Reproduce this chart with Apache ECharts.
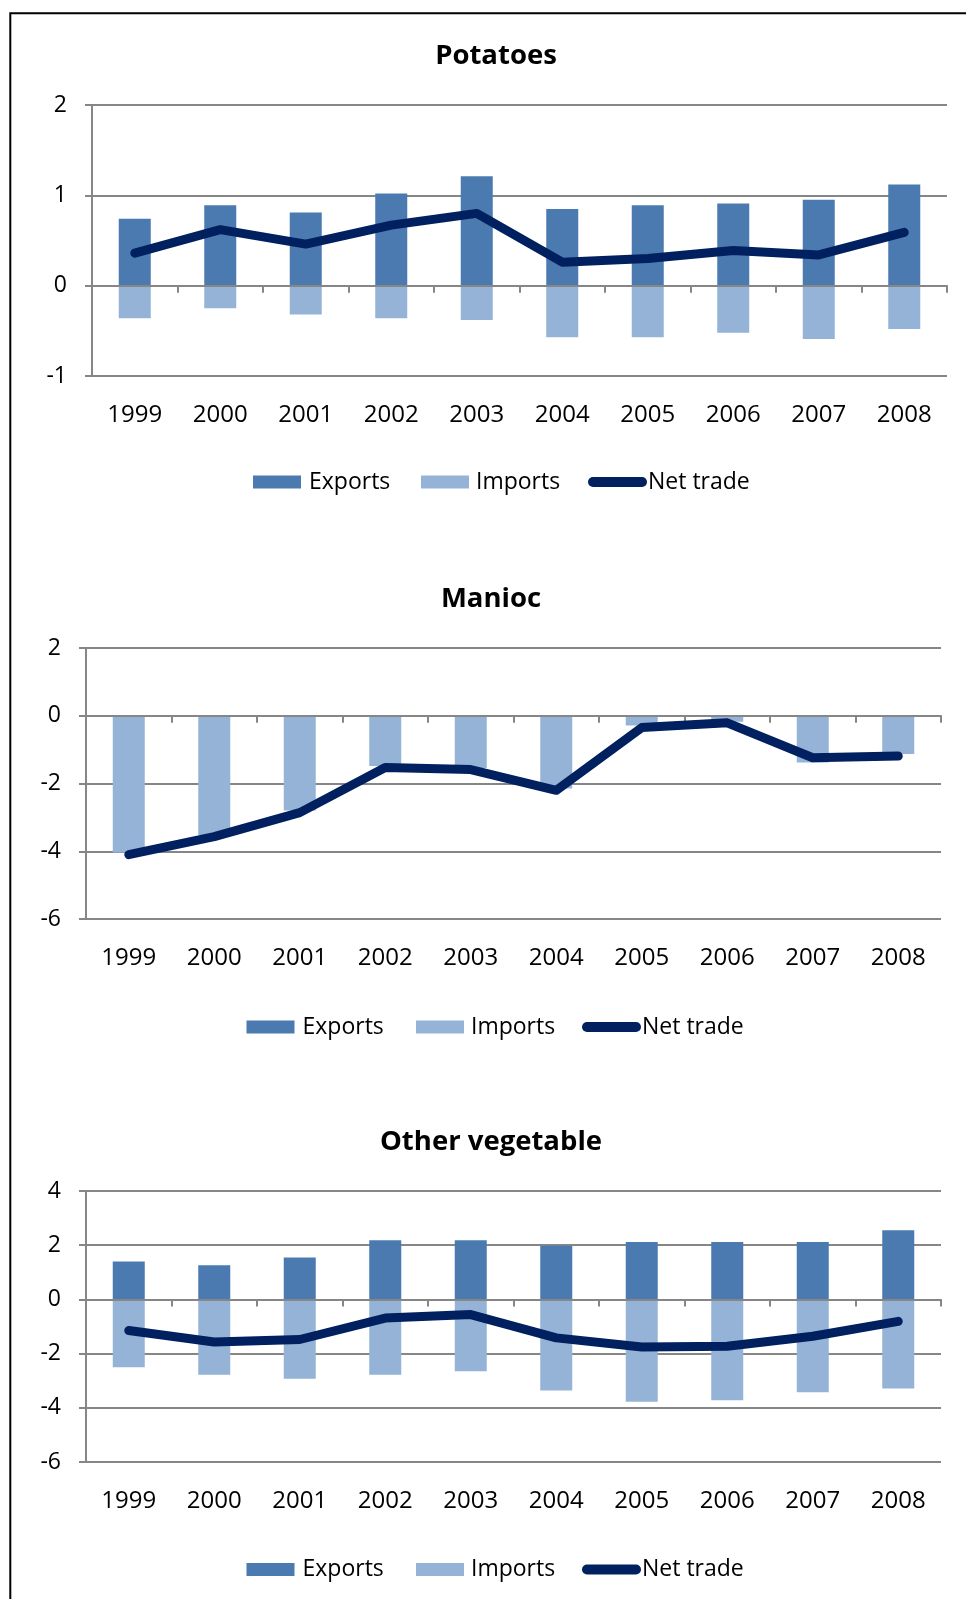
<!DOCTYPE html>
<html>
<head>
<meta charset="utf-8">
<script src="https://cdn.jsdelivr.net/npm/echarts@6/dist/echarts.min.js"></script>
<style>
html,body{margin:0;padding:0;background:#fff;}
#c{width:966px;height:1599px;}
</style>
</head>
<body>
<div id="c"></div>
<script>
// ---------- data ----------
const years = ['1999','2000','2001','2002','2003','2004','2005','2006','2007','2008'];
const seriesNames = ['Exports','Imports','Net trade'];
const chartTitles = ['Potatoes','Manioc','Other vegetable'];

const potatoesExports = [0.74, 0.89, 0.81, 1.02, 1.21, 0.85, 0.89, 0.91, 0.95, 1.12];
const potatoesImports = [-0.36, -0.25, -0.32, -0.36, -0.38, -0.57, -0.57, -0.52, -0.59, -0.48];
const potatoesNet     = [0.36, 0.62, 0.46, 0.67, 0.80, 0.26, 0.30, 0.39, 0.34, 0.59];

const maniocExports = [0, 0, 0, 0, 0, 0, 0, 0, 0, 0];
const maniocImports = [-4.04, -3.52, -2.80, -1.48, -1.54, -2.15, -0.29, -0.18, -1.38, -1.13];
const maniocNet     = [-4.10, -3.57, -2.86, -1.53, -1.59, -2.20, -0.35, -0.21, -1.24, -1.19];

const otherExports = [1.40, 1.26, 1.55, 2.18, 2.18, 1.98, 2.12, 2.12, 2.12, 2.55];
const otherImports = [-2.50, -2.78, -2.93, -2.78, -2.65, -3.36, -3.78, -3.72, -3.43, -3.29];
const otherNet     = [-1.15, -1.57, -1.48, -0.69, -0.56, -1.42, -1.76, -1.73, -1.36, -0.81];

const yTicksPotatoes = {min: -1, max: 2, interval: 1};
const yTicksManioc   = {min: -6, max: 2, interval: 2};
const yTicksOther    = {min: -6, max: 4, interval: 2};

// ---------- layout / style ----------
const FONT = '"Open Sans", "Noto Sans", sans-serif';
const GRAY = '#868686';
const C_EXP = '#4A7AB0', C_IMP = '#95B3D7', C_NET = '#002060';

const panels = [
  {title: chartTitles[0], tx: 496, ty: 56, grid: {left: 92, top: 105, width: 855, height: 271},
   y: yTicksPotatoes, data: [potatoesExports, potatoesImports, potatoesNet], ly: 479.5, lx: [253, 421, 588]},
  {title: chartTitles[1], tx: 491, ty: 599.5, grid: {left: 86, top: 648, width: 855, height: 271},
   y: yTicksManioc, data: [maniocExports, maniocImports, maniocNet], ly: 1024.5, lx: [246.5, 416, 582]},
  {title: chartTitles[2], tx: 491, ty: 1142.5, grid: {left: 86, top: 1191, width: 855, height: 271},
   y: yTicksOther, data: [otherExports, otherImports, otherNet], ly: 1567, lx: [246.5, 416, 582]}
];

const grids = [], xAxes = [], yAxes = [], series = [], legends = [];
const graphics = [{
  type: 'rect', silent: true, z: 100,
  shape: {x: 10.3, y: 13.3, width: 2000, height: 2000},
  style: {fill: 'none', stroke: '#000', lineWidth: 2}
}];

panels.forEach((p, i) => {
  grids.push(Object.assign({containLabel: false}, p.grid));
  xAxes.push({
    type: 'category', gridIndex: i, data: years, z: 2.5,
    axisLine: {show: true, onZero: true, lineStyle: {color: GRAY, width: 2}},
    axisTick: {show: true, length: 7, lineStyle: {color: GRAY, width: 2}},
    axisLabel: {show: false}, splitLine: {show: false}
  });
  xAxes.push({
    type: 'category', gridIndex: i, data: years, position: 'bottom',
    axisLine: {show: false, onZero: false}, axisTick: {show: false}, splitLine: {show: false},
    axisLabel: {show: true, margin: 27, fontSize: 24, color: '#000', fontFamily: FONT}
  });
  yAxes.push({
    type: 'value', gridIndex: i, min: p.y.min, max: p.y.max, interval: p.y.interval,
    axisLine: {show: true, onZero: false, lineStyle: {color: GRAY, width: 2}},
    axisTick: {show: true, length: 7, lineStyle: {color: GRAY, width: 2}},
    splitLine: {show: true, lineStyle: {color: GRAY, width: 2}},
    axisLabel: {margin: 25, fontSize: 23, color: '#000', fontFamily: FONT}
  });
  series.push({
    name: seriesNames[0], type: 'bar', xAxisIndex: 2 * i, yAxisIndex: i, stack: 's' + i,
    barWidth: 32, itemStyle: {color: C_EXP}, data: p.data[0]
  });
  series.push({
    name: seriesNames[1], type: 'bar', xAxisIndex: 2 * i, yAxisIndex: i, stack: 's' + i,
    barWidth: 32, itemStyle: {color: C_IMP}, data: p.data[1]
  });
  series.push({
    name: seriesNames[2], type: 'line', xAxisIndex: 2 * i, yAxisIndex: i, z: 5,
    symbol: 'none', itemStyle: {color: C_NET},
    lineStyle: {color: C_NET, width: 9, cap: 'round', join: 'round'}, data: p.data[2]
  });
  const icons = [
    {icon: 'rect', w: 48, h: 13, color: C_EXP, pad: [0, 0, 0, 3]},
    {icon: 'rect', w: 48, h: 13, color: C_IMP, pad: [0, 0, 0, 2]},
    {icon: 'path://M5,0L54,0A5,5,0,0,1,54,10L5,10A5,5,0,0,1,5,0Z', w: 59, h: 10, color: C_NET, pad: [0, 0, 0, -4]}
  ];
  icons.forEach((ic, k) => {
    legends.push({
      left: p.lx[k], top: p.ly - 9, orient: 'horizontal', selectedMode: false,
      itemWidth: ic.w, itemHeight: ic.h, padding: 0,
      itemStyle: {borderWidth: 0},
      textStyle: {fontSize: 23, color: '#000', fontFamily: FONT, padding: ic.pad},
      data: [{name: seriesNames[k], icon: ic.icon, itemStyle: {color: ic.color, borderWidth: 0}}]
    });
  });
  graphics.push({
    type: 'text', x: p.tx, y: p.ty, silent: true,
    style: {text: p.title, fontSize: 27.5, fontWeight: 'bold', fontFamily: FONT, fill: '#000',
            align: 'center', verticalAlign: 'middle'}
  });
});

const chart = echarts.init(document.getElementById('c'), null, {renderer: 'canvas'});
chart.setOption({
  backgroundColor: '#fff',
  animation: false,
  grid: grids, xAxis: xAxes, yAxis: yAxes, series: series, legend: legends, graphic: graphics
});
</script>
</body>
</html>
